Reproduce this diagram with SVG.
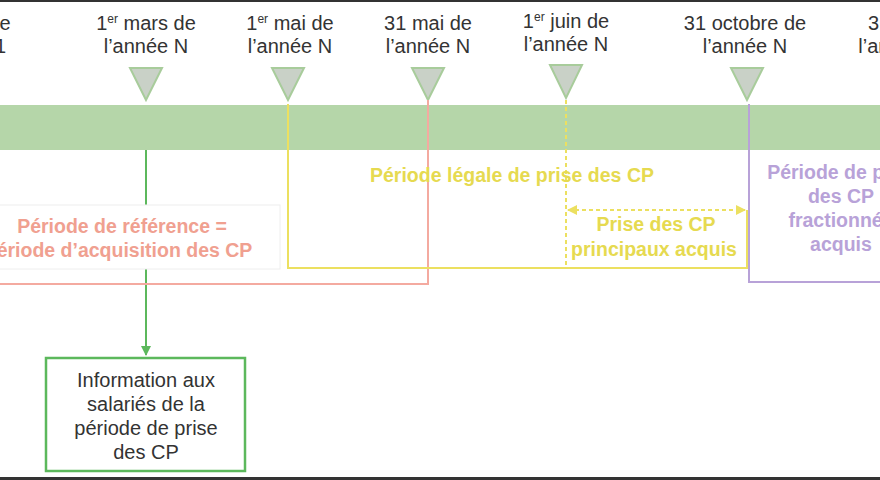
<svg xmlns="http://www.w3.org/2000/svg" width="880" height="480" viewBox="0 0 880 480">
<defs>
<style>
.d{font-family:"Liberation Sans",Arial,sans-serif;font-size:20px;fill:#333;text-anchor:middle}
.b{font-family:"Liberation Sans",Arial,sans-serif;font-size:19.5px;font-weight:bold;text-anchor:middle}
.tri{fill:#c9d1c7;stroke:#a8cc9b;stroke-width:2}
</style>
<marker id="ag" viewBox="0 0 10 10" refX="9" refY="5" markerWidth="5" markerHeight="5" orient="auto"><path d="M0,0L10,5L0,10z" fill="#5cb85c"/></marker>
<marker id="ay" viewBox="0 0 10 10" refX="9" refY="5" markerWidth="5" markerHeight="5" orient="auto-start-reverse"><path d="M0,0L10,5L0,10z" fill="#ece060"/></marker>
</defs>
<rect width="880" height="480" fill="#fff"/>
<rect x="0" y="0" width="880" height="2" fill="#333"/>
<rect x="0" y="477" width="880" height="3" fill="#333"/>
<rect x="0" y="105" width="880" height="45" fill="#b5d6a9"/>
<g id="dates">
<text class="d" x="-45" y="30">28 février de</text><text class="d" x="-45" y="53">l’année N-1</text>
<text class="d" x="146" y="30">1<tspan font-size="12" dy="-7">er</tspan><tspan dy="7"> mars de</tspan></text><text class="d" x="146" y="53">l’année N</text>
<text class="d" x="290" y="30">1<tspan font-size="12" dy="-7">er</tspan><tspan dy="7"> mai de</tspan></text><text class="d" x="290" y="53">l’année N</text>
<text class="d" x="428" y="30">31 mai de</text><text class="d" x="428" y="53">l’année N</text>
<text class="d" x="566" y="28">1<tspan font-size="12" dy="-7">er</tspan><tspan dy="7"> juin de</tspan></text><text class="d" x="566" y="51">l’année N</text>
<text class="d" x="745" y="30">31 octobre de</text><text class="d" x="745" y="53">l’année N</text>
<text class="d" x="912" y="30">31 mai de</text><text class="d" x="912" y="53">l’année N+1</text>
</g>
<g id="markers">
<path class="tri" d="M130,68H162L146,100z"/>
<path class="tri" d="M272,68H304L288,100z"/>
<path class="tri" d="M412,68H444L428,100z"/>
<path class="tri" d="M550,65H582L566,98z"/>
<path class="tri" d="M731,68H763L747,100z"/>
</g>
<g id="connectors" fill="none" stroke-width="2">
<path d="M146,150V355" stroke="#5cb85c" marker-end="url(#ag)"/>
<path d="M428,100V284H0" stroke="#f4aaa0"/>
<path d="M288,104V268H747V210" stroke="#ece060"/>
<path d="M566,100V268" stroke="#ece060" stroke-dasharray="4,3"/>
<path d="M568,210H745" stroke="#ece060" stroke-dasharray="4,3" marker-start="url(#ay)" marker-end="url(#ay)"/>
<path d="M749,104V282H880" stroke="#b8a2d8"/>
</g>
<g id="ref">
<rect x="-5" y="205" width="285" height="64" fill="#fff" stroke="#eee"/>
<text class="b" x="122" y="233" fill="#f0a090">Période de référence =</text>
<text class="b" x="118" y="257" fill="#f0a090">Période d’acquisition des CP</text>
</g>
<g id="legale">
<text class="b" x="512" y="182" fill="#e6da50">Période légale de prise des CP</text>
</g>
<g id="principaux">
<text class="b" x="656" y="231" fill="#e6da50">Prise des CP</text>
<text class="b" x="654" y="256" fill="#e6da50">principaux acquis</text>
</g>
<g id="fractionnes">
<text class="b" x="843" y="179" fill="#b8a2d8">Période de prise</text>
<text class="b" x="841" y="203" fill="#b8a2d8">des CP</text>
<text class="b" x="841" y="227" fill="#b8a2d8">fractionnés</text>
<text class="b" x="841" y="251" fill="#b8a2d8">acquis</text>
</g>
<g id="info">
<rect x="46" y="358" width="199" height="113" fill="#fff" stroke="#5cb85c" stroke-width="2.5"/>
<text class="d" x="146" y="387">Information aux</text>
<text class="d" x="146" y="411">salariés de la</text>
<text class="d" x="146" y="435">période de prise</text>
<text class="d" x="146" y="459">des CP</text>
</g>
</svg>
